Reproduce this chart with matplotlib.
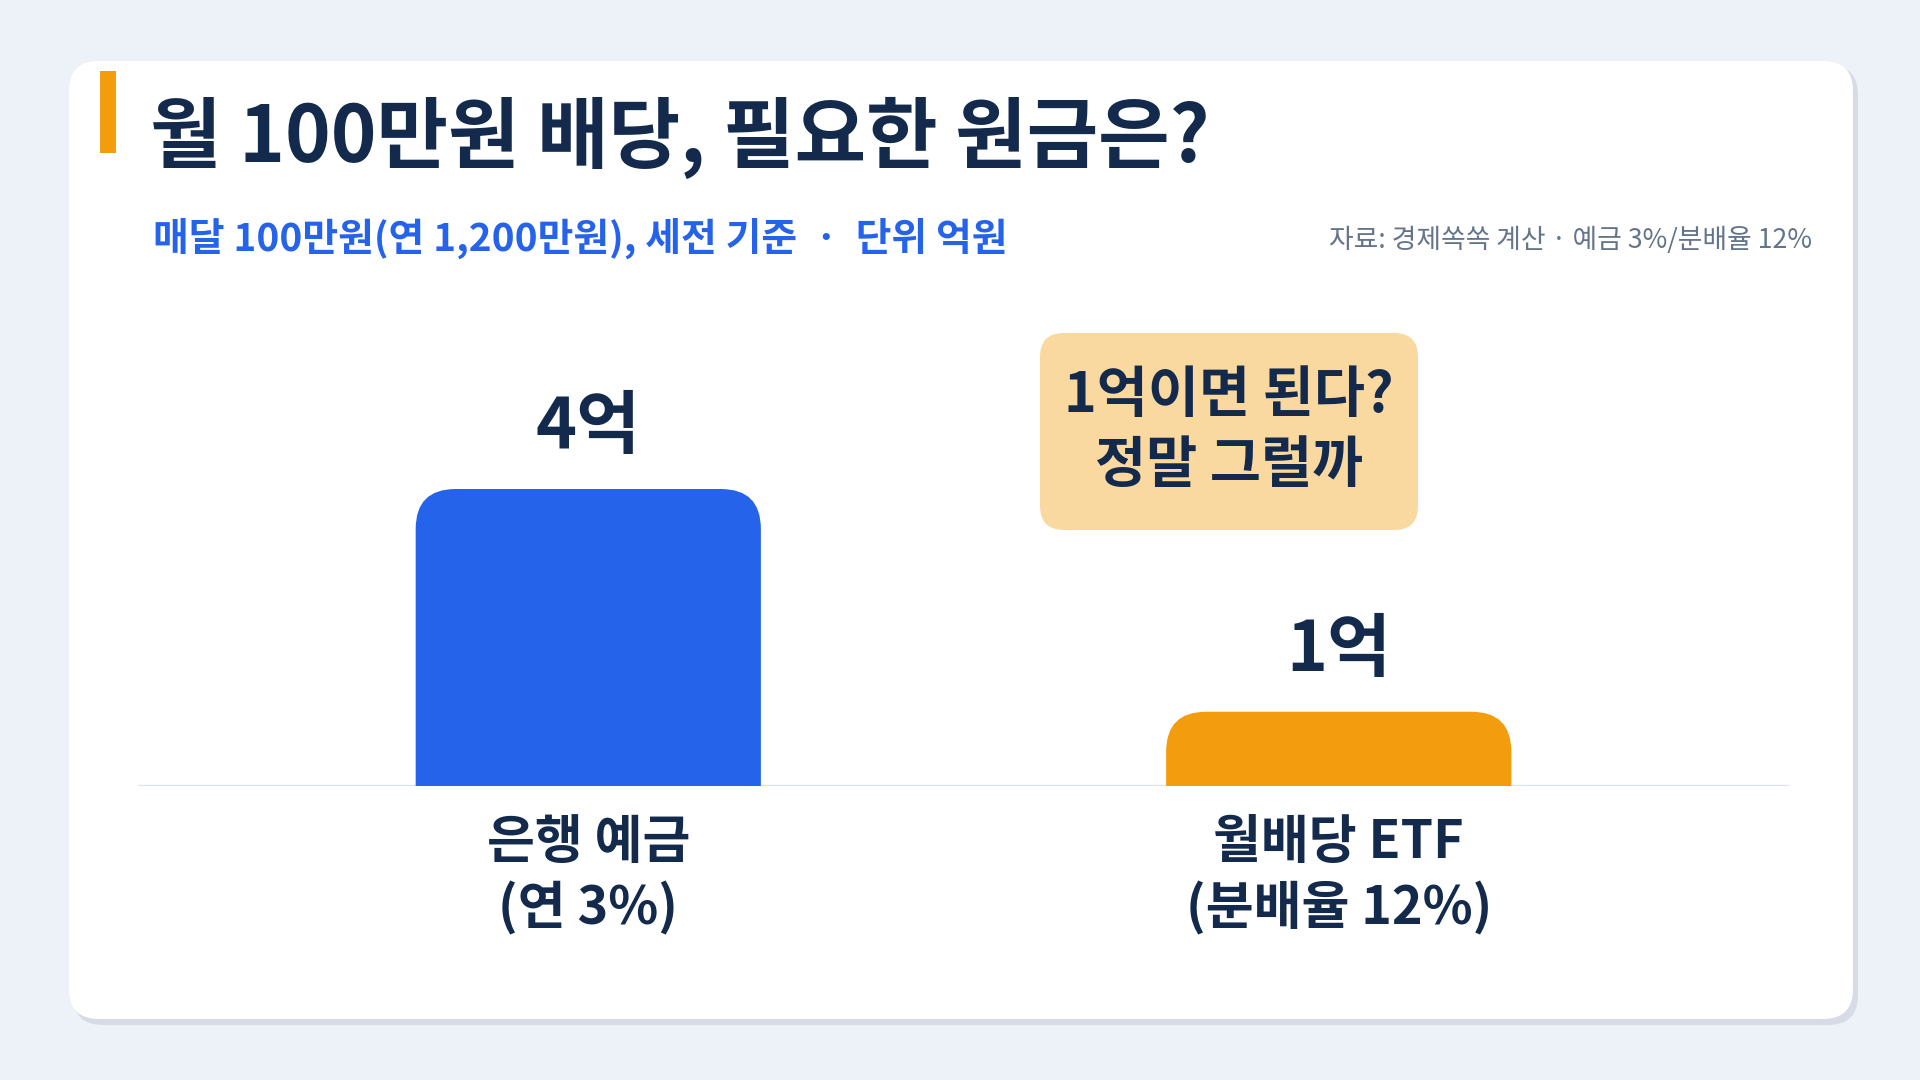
import matplotlib
matplotlib.use("Agg")
import matplotlib.pyplot as plt
from matplotlib.patches import FancyBboxPatch

plt.rcParams['font.family'] = ['Noto Sans CJK KR', 'DejaVu Sans']

# data
categories = ['은행 예금', '월배당 ETF']
sub_labels = ['(연 3%)', '(분배율 12%)']
principal = [4, 1]          # 억원
value_labels = ['4억', '1억']
bar_colors = ['#2563EB', '#F39C0E']

title = '월 100만원 배당, 필요한 원금은?'
subtitle = '매달 100만원(연 1,200만원), 세전 기준  ·  단위 억원'
source = '자료: 경제쏙쏙 계산 · 예금 3%/분배율 12%'
callout = '1억이면 된다?\n정말 그럴까'

NAVY = '#132A4C'
W, H = 1920, 1080

fig = plt.figure(figsize=(19.2, 10.8), dpi=100)
fig.patch.set_facecolor('#EDF1F8')

# background layer in pixel coords (y down)
bg = fig.add_axes([0, 0, 1, 1])
bg.set_xlim(0, W)
bg.set_ylim(H, 0)
bg.axis('off')

# card + shadow
bg.add_patch(FancyBboxPatch((73, 65), 1785, 960, boxstyle='round,pad=0,rounding_size=30',
                            fc='#D6DBE5', ec='none', zorder=1))
bg.add_patch(FancyBboxPatch((69, 61), 1784, 958, boxstyle='round,pad=0,rounding_size=30',
                            fc='white', ec='none', zorder=2))
# accent bar
bg.add_patch(plt.Rectangle((100, 71), 16, 82, fc='#F39C0E', ec='none', zorder=3))

bg.text(150, 138, title, fontsize=56, fontweight='bold', color=NAVY,
        va='center', ha='left', zorder=4)
bg.text(153, 238, subtitle, fontsize=28, fontweight='bold', color='#2563EB',
        va='center', ha='left', zorder=4)
bg.text(1812, 240, source, fontsize=19.3, color='#64748B',
        va='center', ha='right', zorder=4)

# callout
bg.add_patch(FancyBboxPatch((1040, 333), 378, 197, boxstyle='round,pad=0,rounding_size=24',
                            fc='#FAD9A0', ec='none', zorder=3))
bg.text(1229, 431, callout, fontsize=40, fontweight='bold', color=NAVY,
        ha='center', va='center', linespacing=1.3, zorder=4)

# chart axes
base_px = 786
ymax = 7.0
px_per_unit = 297 / 4
ax_h = ymax * px_per_unit
ax = fig.add_axes([138 / W, (H - base_px) / H, 1651 / W, ax_h / H])
ax.patch.set_alpha(0)
ax.set_xlim(-0.6, 1.6)
ax.set_ylim(0, ymax)
ax.axis('off')

bar_w = 0.46
x_per_px = 2.2 / 1651
y_per_px = ymax / ax_h
aspect = y_per_px / x_per_px
r = 40 * x_per_px
for i, v in enumerate(principal):
    p = FancyBboxPatch((i - bar_w / 2, -2), bar_w, v + 2,
                       boxstyle='round,pad=0,rounding_size=%f' % r,
                       mutation_aspect=aspect, fc=bar_colors[i], ec='none', zorder=3)
    ax.add_patch(p)
    ax.annotate(value_labels[i], xy=(i, v), xytext=(0, 44), textcoords='offset points',
                ha='center', va='center', fontsize=50, fontweight='bold', color=NAVY)
    ax.annotate(categories[i], xy=(i, 0), xycoords='data', xytext=(0, -41),
                textcoords='offset points', ha='center', va='center',
                fontsize=37.5, fontweight='bold', color=NAVY, annotation_clip=False)
    ax.annotate(sub_labels[i], xy=(i, 0), xycoords='data', xytext=(0, -88),
                textcoords='offset points', ha='center', va='center',
                fontsize=37.5, fontweight='bold', color=NAVY, annotation_clip=False)

ax.axhline(0, color='#DDE3EE', lw=1.6, zorder=2)

fig.savefig('out.png', dpi=100, facecolor=fig.get_facecolor())
